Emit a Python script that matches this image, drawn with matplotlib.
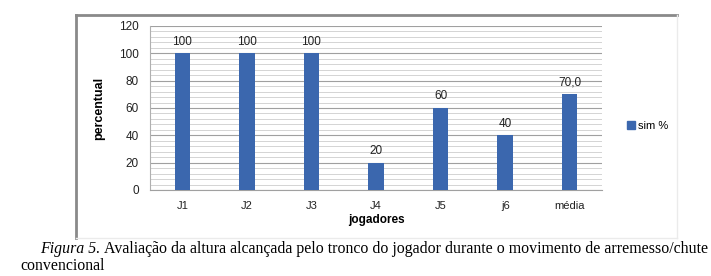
import numpy as np
import matplotlib.pyplot as plt
from matplotlib.lines import Line2D

categories = ["J1", "J2", "J3", "J4", "J5", "j6", "média"]
values = [100, 100, 100, 20, 60, 40, 70.0]
labels = ["100", "100", "100", "20", "60", "40", "70,0"]
series_name = "sim %"

bar_color = "#3b67ae"
sans = "Liberation Sans"
serif = "Liberation Serif"

fig = plt.figure(figsize=(7.11, 2.76), dpi=100)
ax = fig.add_axes([150 / 711, 1 - 190 / 276, 452 / 711, 164 / 276])

x = np.arange(len(categories))
bars = ax.bar(x, values, width=0.24, color=bar_color, label=series_name, zorder=3)

ax.set_xlim(-0.5, len(categories) - 0.5)
ax.set_ylim(0, 120)
ax.set_yticks(np.arange(0, 121, 20))
ax.set_yticks(np.arange(0, 121, 4), minor=True)
ax.grid(axis="y", which="major", color="#a0a0a0", linewidth=0.8, zorder=0)
ax.grid(axis="y", which="minor", color="#d4d4d4", linewidth=0.7, zorder=0)

ax.set_xticks(x)
ax.set_xticklabels(categories, fontsize=8, family=sans, color="#222222")
ax.tick_params(axis="y", labelsize=8.5, colors="#222222", length=0, pad=8, which="both")
ax.tick_params(axis="x", length=0, pad=8)
for t in ax.get_yticklabels():
    t.set_family(sans)

for s in ["top", "right"]:
    ax.spines[s].set_visible(False)
ax.spines["left"].set_color("#b0b0b0")
ax.spines["bottom"].set_color("#a0a0a0")

for b, lab in zip(bars, labels):
    ax.annotate(lab, (b.get_x() + b.get_width() / 2, b.get_height()),
                xytext=(0, 4), textcoords="offset points", ha="center", va="bottom",
                fontsize=8.5, family=sans, color="#222222")

ax.set_ylabel("percentual", fontsize=9, fontweight="bold", family=sans, labelpad=10)
ax.set_xlabel("jogadores", fontsize=8.5, fontweight="bold", family=sans, labelpad=2)

leg = fig.legend(handles=[plt.Rectangle((0, 0), 1, 1, color=bar_color)], labels=[series_name],
                 loc="center left", bbox_to_anchor=(617 / 711, 1 - 126 / 276), frameon=False,
                 handlelength=0.7, handleheight=0.7, handletextpad=0.3,
                 prop={"family": sans, "size": 8})

# chart frame
fig.add_artist(Line2D([76 / 711, 76 / 711], [1 - 238 / 276, 1 - 15 / 276],
                      transform=fig.transFigure, color="#8a8a8a", linewidth=2))
fig.add_artist(Line2D([76 / 711, 677 / 711], [1 - 15 / 276, 1 - 15 / 276],
                      transform=fig.transFigure, color="#8a8a8a", linewidth=2))
fig.add_artist(Line2D([677 / 711, 677 / 711], [1 - 238 / 276, 1 - 15 / 276],
                      transform=fig.transFigure, color="#ebebeb", linewidth=1))
fig.add_artist(Line2D([76 / 711, 677 / 711], [1 - 238 / 276, 1 - 238 / 276],
                      transform=fig.transFigure, color="#ebebeb", linewidth=1))

# caption
fig_lab = fig.text(40 / 711, 1 - 249 / 276, "Figura 5.", fontsize=10.5, family=serif,
                   style="italic", va="center")
cap = fig.text(104 / 711, 1 - 249 / 276,
               "Avaliação da altura alcançada pelo tronco do jogador durante o movimento de arremesso/chute",
               fontsize=10.5, family=serif, va="center")
cap2 = fig.text(20 / 711, 1 - 266 / 276, "convencional", fontsize=10.5, family=serif, va="center")

# stretch the caption to the right margin, as in the justified original
fig.canvas.draw()
size = 10.5 * (704 - 104) / cap.get_window_extent().width
for t in (fig_lab, cap, cap2):
    t.set_fontsize(size)

fig.savefig("out.png", dpi=100)
